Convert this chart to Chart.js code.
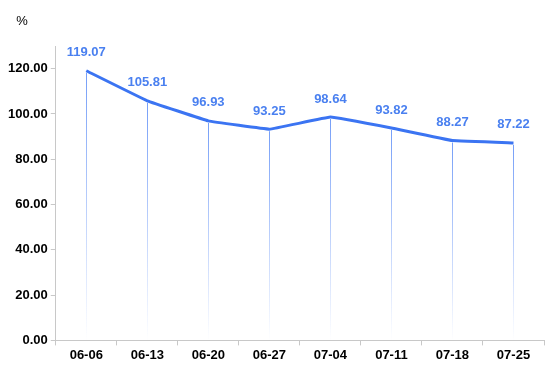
<!DOCTYPE html>
<html><head><meta charset="utf-8">
<script src="https://cdn.jsdelivr.net/npm/chart.js@4/dist/chart.umd.min.js"></script>
<style>html,body{margin:0;padding:0;background:#fff}#wrap{width:546px;height:383px}</style>
</head><body><div id="wrap"><canvas id="c" width="546" height="383"></canvas></div>
<script>
const categories = ["06-06","06-13","06-20","06-27","07-04","07-11","07-18","07-25"];
const values = [119.07,105.81,96.93,93.25,98.64,93.82,88.27,87.22];
const yTicks = [0,20,40,60,80,100,120];
const unitLabel = "%";

const FONT = "'Liberation Sans', Arial, sans-serif";
const BLUE = "#3b74f2";

const dropLines = {
  id: "dropLines",
  afterDatasetsDraw(chart) {
    const ctx = chart.ctx, meta = chart.getDatasetMeta(0), bottom = chart.chartArea.bottom;
    ctx.save();
    meta.data.forEach(p => {
      const x = Math.round(p.x) + 0.5;
      const g = ctx.createLinearGradient(x, p.y, x, bottom);
      g.addColorStop(0, "rgba(70,125,245,0.75)");
      g.addColorStop(1, "rgba(70,125,245,0.0)");
      ctx.strokeStyle = g; ctx.lineWidth = 1;
      ctx.beginPath();
      ctx.moveTo(x, p.y + 2);
      ctx.lineTo(x, bottom);
      ctx.stroke();
    });
    ctx.restore();
  }
};
const labels = {
  id: "valueLabels",
  afterDatasetsDraw(chart) {
    const ctx = chart.ctx, meta = chart.getDatasetMeta(0);
    ctx.save();
    ctx.font = "bold 13px " + FONT;
    ctx.fillStyle = "#4a80f0";
    ctx.textAlign = "center"; ctx.textBaseline = "middle";
    meta.data.forEach((p, i) => ctx.fillText(values[i].toFixed(2), p.x, p.y - 18));
    ctx.font = "13px " + FONT;
    ctx.fillStyle = "#000";
    ctx.fillText(unitLabel, 22, 21);
    ctx.restore();
  }
};

new Chart(document.getElementById("c"), {
  type: "line",
  data: { labels: categories, datasets: [{
    data: values, borderColor: BLUE, borderWidth: 3, pointRadius: 0, tension: 0.05, fill: false
  }]},
  options: {
    responsive: false, animation: false, events: [],
    layout: { padding: { top: 46, right: 2, left: 5, bottom: 18 } },
    plugins: { legend: { display: false }, tooltip: { enabled: false } },
    scales: {
      x: {
        offset: true,
        grid: { display: true, drawOnChartArea: false, drawTicks: true, tickLength: 5, color: "#c8c8c8", offset: true },
        border: { display: true, color: "#c8c8c8", width: 1 },
        ticks: { font: { family: FONT, size: 13, weight: "bold" }, color: "#000", padding: 2 }
      },
      y: {
        min: 0, max: 130,
        afterBuildTicks(axis) { axis.ticks = yTicks.map(v => ({ value: v })); },
        grid: { display: true, drawOnChartArea: false, drawTicks: true, tickLength: 5, color: "#c8c8c8" },
        border: { display: true, color: "#c8c8c8", width: 1 },
        ticks: { font: { family: FONT, size: 13, weight: "bold" }, color: "#000", padding: 3,
          callback: v => Number(v).toFixed(2) }
      }
    }
  },
  plugins: [dropLines, labels]
});
</script></body></html>
